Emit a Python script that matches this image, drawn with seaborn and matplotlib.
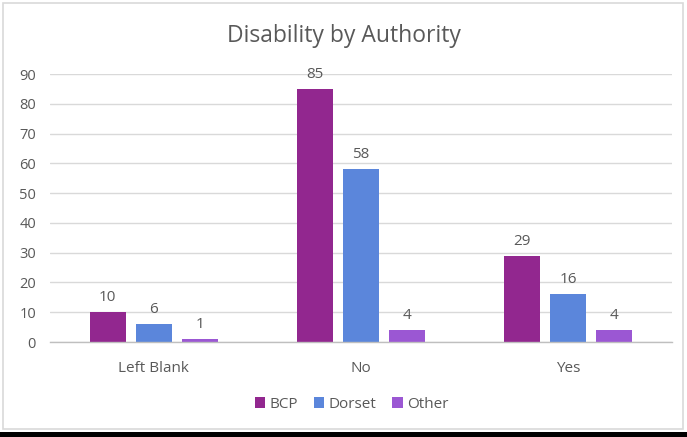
import matplotlib
matplotlib.use("Agg")
import matplotlib.pyplot as plt
import seaborn as sns
import pandas as pd
from matplotlib.patches import Rectangle

categories = ["Left Blank", "No", "Yes"]
series = ["BCP", "Dorset", "Other"]
bcp = [10, 85, 29]
dorset = [6, 58, 16]
other = [1, 4, 4]
colors = ["#92278F", "#5B86DB", "#9B57D3"]

rows = []
for s, vals in zip(series, [bcp, dorset, other]):
    for c, v in zip(categories, vals):
        rows.append({"Category": c, "Series": s, "Value": v})
df = pd.DataFrame(rows)

sns.set_theme(style="white")
plt.rcParams["font.family"] = ["Open Sans", "DejaVu Sans"]
text_color = "#595959"

fig = plt.figure(figsize=(6.87, 4.37), dpi=100)
ax = fig.add_axes([50/687, 1-342/437, 622/687, (342-74)/437])

sns.barplot(data=df, x="Category", y="Value", hue="Series", order=categories,
            hue_order=series, palette=colors, width=0.665, gap=0.217,
            saturation=1, linewidth=0, ax=ax, legend=True)

ax.set_ylim(0, 90)
ax.set_xlim(-0.5, 2.5)
ax.set_yticks(range(0, 91, 10))
ax.yaxis.grid(True, color="#D9D9D9", linewidth=1)
ax.set_axisbelow(True)
for sp in ["top", "right", "left"]:
    ax.spines[sp].set_visible(False)
ax.spines["bottom"].set_color("#BFBFBF")
ax.spines["bottom"].set_linewidth(1)
ax.tick_params(axis="y", length=0, labelsize=10.5, colors=text_color, pad=10)
ax.tick_params(axis="x", length=0, labelsize=11, colors=text_color, pad=14)
ax.set_xlabel("")
ax.set_ylabel("")

for cont in ax.containers:
    ax.bar_label(cont, padding=5, fontsize=11, color=text_color)

leg = ax.legend(loc="center", bbox_to_anchor=(0.485, 1-(404-74)/(342-74)), ncol=3, frameon=False,
                fontsize=11, handlelength=0.7, handleheight=0.7, handletextpad=0.3,
                columnspacing=1.0, labelcolor=text_color)

fig.text(0.5, 1-36/437, "Disability by Authority", ha="center", va="center",
         fontsize=16.5, color=text_color)

fig.patches.append(Rectangle((3/687, 1-429/437), 680/687, 426/437, transform=fig.transFigure,
                             fill=False, edgecolor="#D9D9D9", linewidth=1.2))
fig.patches.append(Rectangle((0, 0), 1, 5/437, transform=fig.transFigure,
                             facecolor="black", edgecolor="none"))

fig.savefig("out.png", dpi=100)
